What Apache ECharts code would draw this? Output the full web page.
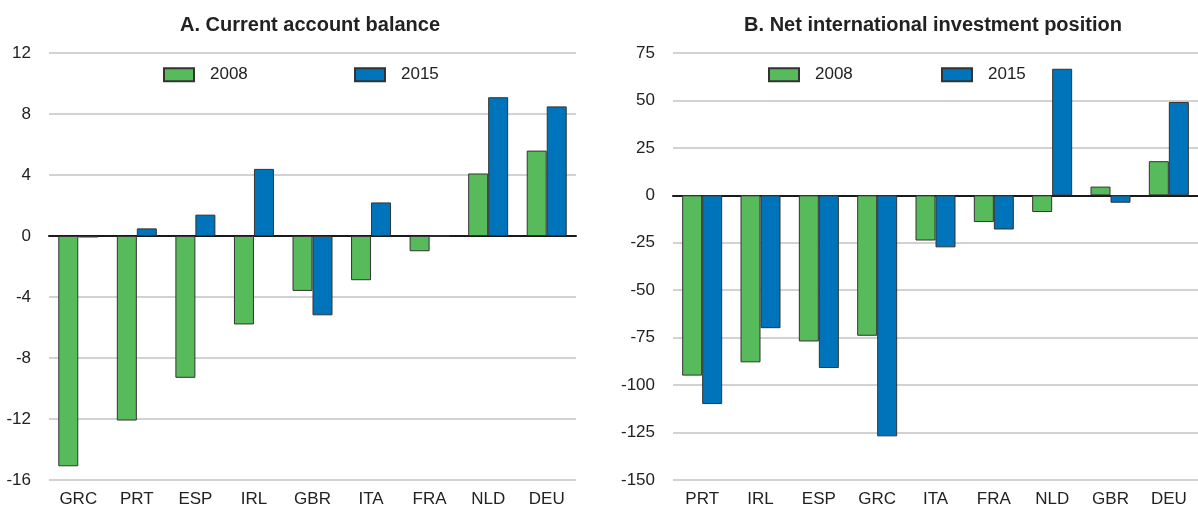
<html>

<head>
  <script src="https://cdn.jsdelivr.net/npm/echarts@6/dist/echarts.min.js"></script>
</head>

<body style="margin:0">
  <div id="main" style="width: 1198px;height:507px;"></div>
  <script>
    // Panel A: current account balance
    var catsA = ['GRC', 'PRT', 'ESP', 'IRL', 'GBR', 'ITA', 'FRA', 'NLD', 'DEU'];
    var caA2008 = [-15.1, -12.1, -9.3, -5.8, -3.6, -2.9, -1.0, 4.1, 5.6];
    var caA2015 = [-0.1, 0.5, 1.4, 4.4, -5.2, 2.2, 0.0, 9.1, 8.5];

    // Panel B: net international investment position
    var catsB = ['PRT', 'IRL', 'ESP', 'GRC', 'ITA', 'FRA', 'NLD', 'GBR', 'DEU'];
    var niipB2008 = [-95, -88, -77, -74, -23.8, -14.1, -8.8, 4.6, 18.0];
    var niipB2015 = [-110, -70, -91, -127, -27.4, -18.0, 66.7, -3.9, 49.2];

    var font = '"Liberation Sans Narrow", "Arial Narrow", "Liberation Sans", sans-serif';
    var green = '#58bb5b';
    var blue = '#0074ba';
    var myChart = echarts.init(document.getElementById('main'));

    function xAxes(gridIndex, cats) {
      return [{
          type: 'category',
          gridIndex: gridIndex,
          data: cats,
          axisLine: { onZero: true, lineStyle: { color: '#1a1a1a', width: 2 } },
          axisTick: { show: false },
          axisLabel: { show: false }
        },
        {
          type: 'category',
          gridIndex: gridIndex,
          data: cats,
          position: 'bottom',
          axisLine: { show: false, onZero: false },
          axisTick: { show: false },
          axisLabel: { color: '#222', fontSize: 17, fontFamily: font, margin: 5 }
        }
      ];
    }

    function yAxis(gridIndex, min, max, interval) {
      return {
        type: 'value',
        gridIndex: gridIndex,
        min: min,
        max: max,
        interval: interval,
        axisLine: { show: false },
        axisTick: { show: false },
        axisLabel: { color: '#222', fontSize: 17, fontFamily: font, margin: 18 },
        splitLine: { lineStyle: { color: '#d2d2d2', width: 2 } }
      };
    }

    function bar(name, data, xIdx, yIdx, color) {
      return {
        name: name,
        type: 'bar',
        xAxisIndex: xIdx,
        yAxisIndex: yIdx,
        data: data,
        barWidth: 20,
        barGap: '0%',
        itemStyle: { color: color, borderColor: '#333', borderWidth: 1 }
      };
    }

    function legend(name, left, top) {
      return {
        data: [name],
        left: left,
        top: top,
        padding: 0,
        itemWidth: 30,
        itemHeight: 13,
        icon: 'rect',
        selectedMode: false,
        textStyle: { color: '#222', fontSize: 17, fontFamily: font, padding: [0, 0, 0, 11] }
      };
    }

    option = {
      animation: false,
      title: [{
          text: 'A. Current account balance',
          left: 305,
          top: 3,
          textAlign: 'center',
          textStyle: { fontSize: 20, fontWeight: 'bold', color: '#222', fontFamily: font }
        },
        {
          text: 'B. Net international investment position',
          left: 928,
          top: 3,
          textAlign: 'center',
          textStyle: { fontSize: 20, fontWeight: 'bold', color: '#222', fontFamily: font }
        }
      ],
      legend: [
        legend('2008', 163, 60),
        legend('2015', 354, 60),
        legend('2008', 768, 60),
        legend('2015', 941, 60)
      ],
      grid: [{
          left: 49,
          top: 53,
          width: 527,
          height: 427,
          outerBoundsMode: 'none'
        },
        {
          left: 673,
          top: 53,
          width: 525,
          height: 427,
          outerBoundsMode: 'none'
        }
      ],
      xAxis: xAxes(0, catsA).concat(xAxes(1, catsB)),
      yAxis: [yAxis(0, -16, 12, 4), yAxis(1, -150, 75, 25)],
      series: [
        bar('2008', caA2008, 0, 0, green),
        bar('2015', caA2015, 0, 0, blue),
        bar('2008', niipB2008, 2, 1, green),
        bar('2015', niipB2015, 2, 1, blue)
      ]
    };

    myChart.setOption(option);
  </script>
</body>

</html>
